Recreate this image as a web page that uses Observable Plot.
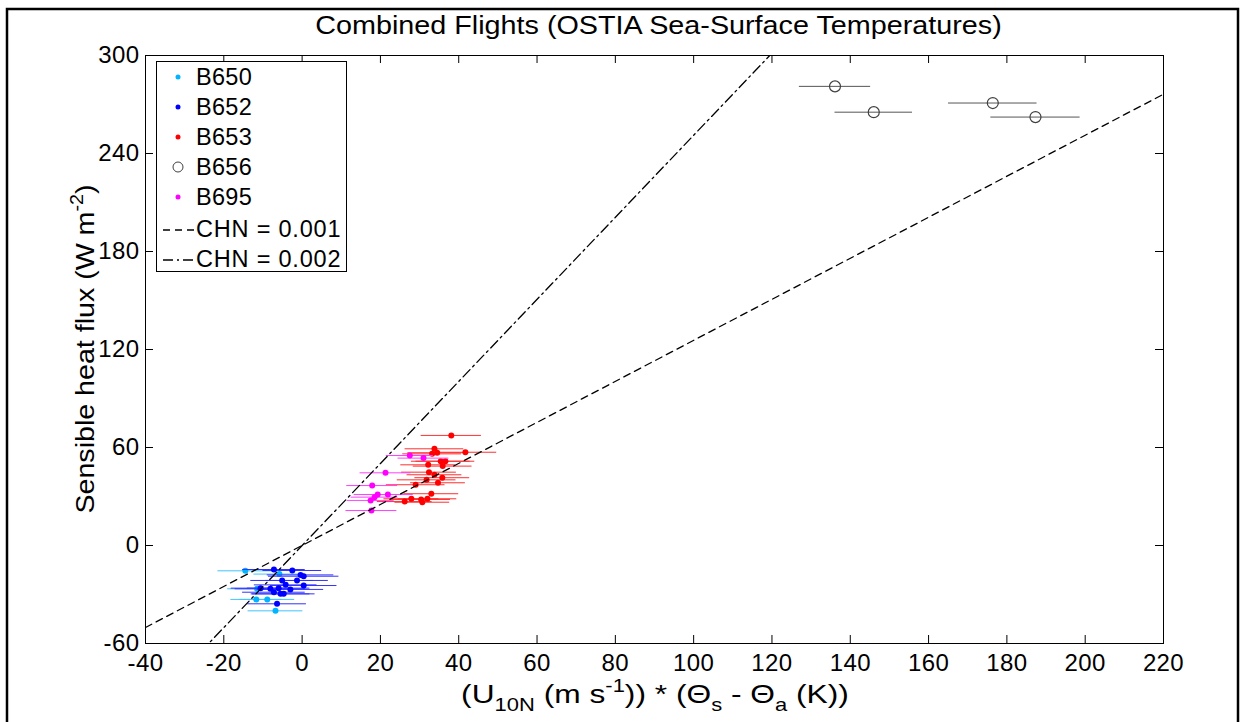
<!DOCTYPE html>
<html>
<head>
<meta charset="utf-8">
<script src="https://cdn.jsdelivr.net/npm/d3@7"></script>
<script src="https://cdn.jsdelivr.net/npm/@observablehq/plot@0.6"></script>
<style>
  html, body { margin: 0; padding: 0; background: #fff; }
  #chart { width: 1240px; height: 722px; overflow: hidden; }
</style>
</head>
<body>
<div id="chart"></div>
<script>
// ---- data ----
const xTicks = [-40, -20, 0, 20, 40, 60, 80, 100, 120, 140, 160, 180, 200, 220];
const yTicks = [-60, 0, 60, 120, 180, 240, 300];

const b650X = [-14.5, -5.8, -11.5, -11.7, -8.9, -6.8];
const b650Y = [-15.5, -17.5, -26.5, -33.0, -33.0, -40.0];
const b650E = [7.0, 6.5, 7.5, 6.5, 7.0, 7.0];

const b652X = [-7.2, -2.5, -0.4, 0.4, -5.1, -1.3, 0.4, -4.2, -8.1, -6.0, -3.0, -7.2, -5.5, -4.7, -10.6, -6.4];
const b652Y = [-14.7, -15.3, -18.0, -18.8, -21.4, -21.4, -24.5, -24.1, -26.5, -26.1, -26.9, -28.6, -29.6, -29.6, -26.1, -35.7];
const b652E = [8.0, 7.5, 8.5, 9.0, 8.0, 8.0, 8.5, 8.0, 9.0, 8.0, 8.5, 8.0, 7.5, 8.0, 7.5, 7.5];

const b653X = [38.1, 33.8, 41.7, 33.2, 34.5, 35.4, 36.6, 32.2, 35.9, 32.4, 33.8, 35.8, 31.8, 34.7, 29.0, 33.0, 26.2, 27.9, 30.4, 32.0, 30.7];
const b653Y = [67.4, 59.2, 57.1, 56.1, 56.8, 51.6, 51.6, 49.4, 48.6, 44.9, 43.3, 41.5, 40.2, 38.4, 37.2, 31.7, 26.9, 28.6, 28.2, 28.6, 26.5];
const b653E = [7.7, 7.5, 8.0, 7.5, 7.5, 7.5, 7.5, 7.0, 7.5, 7.0, 7.0, 7.0, 7.5, 7.0, 7.5, 7.0, 7.0, 7.0, 7.5, 7.5, 7.0];

const b656X = [136.1, 146.0, 176.4, 187.3];
const b656Y = [281.1, 265.3, 270.9, 262.3];
const b656E = [9.1, 9.9, 11.3, 11.4];

const b695X = [27.5, 31.0, 21.3, 17.9, 19.3, 21.9, 18.5, 17.5, 17.7];
const b695Y = [55.1, 53.5, 44.5, 36.7, 31.2, 31.2, 29.6, 27.6, 21.4];
const b695E = [6.0, 6.5, 6.5, 6.5, 6.0, 6.5, 6.0, 6.0, 6.5];

// reference lines (end points)
const chn1X = [-40, 220];
const chn1Y = [-50.2, 276.3];
const chn2X = [-40, 220];
const chn2Y = [-100.5, 552.6];

const seriesNames = ["B650", "B652", "B653", "B656", "B695"];
const seriesColors = ["#00b4ff", "#0000ff", "#ff0000", "#404040", "#ff00ff"];
const barColors = ["#40c4ff", "#3333ff", "#ff3030", "#555555", "#ff40ff"];

// ---- build tables ----
function table(xs, ys, es, name) {
  return xs.map((x, i) => ({x, y: ys[i], e: es[i], s: name}));
}
const groups = [
  table(b650X, b650Y, b650E, "B650"),
  table(b652X, b652Y, b652E, "B652"),
  table(b653X, b653Y, b653E, "B653"),
  table(b656X, b656Y, b656E, "B656"),
  table(b695X, b695Y, b695E, "B695")
];
const chn1 = chn1X.map((x, i) => ({x, y: chn1Y[i]}));
const chn2 = chn2X.map((x, i) => ({x, y: chn2Y[i]}));

const W = 1240, H = 722;
const mT = 55, mR = 77, mB = 79, mL = 145;
const plotW = W - mL - mR, plotH = H - mT - mB;
const tickLen = 8;
const FONT = "'Liberation Sans', Arial, Helvetica, sans-serif";

const marks = [];
groups.forEach((g, i) => {
  marks.push(Plot.ruleY(g, {y: "y", x1: d => d.x - d.e, x2: d => d.x + d.e, stroke: barColors[i], strokeWidth: 1}));
  if (seriesNames[i] === "B656") {
    marks.push(Plot.dot(g, {x: "x", y: "y", r: 5.5, stroke: seriesColors[i], strokeWidth: 1.2, fill: "none"}));
  } else {
    marks.push(Plot.dot(g, {x: "x", y: "y", r: 3, fill: seriesColors[i], stroke: "none"}));
  }
});

const chart = Plot.plot({
  width: W,
  height: H,
  marginTop: mT,
  marginRight: mR,
  marginBottom: mB,
  marginLeft: mL,
  style: {fontFamily: FONT, fontSize: "24px", color: "#000", background: "transparent"},
  x: {domain: [-40, 220], ticks: xTicks, label: null},
  y: {domain: [-60, 300], ticks: yTicks, label: null},
  marks: [
    ...marks,
    Plot.line(chn1, {x: "x", y: "y", stroke: "black", strokeWidth: 1.3, strokeDasharray: "7,5", clip: true}),
    Plot.line(chn2, {x: "x", y: "y", stroke: "black", strokeWidth: 1.3, strokeDasharray: "10,4,2,4", clip: true}),
    Plot.ruleX(xTicks, {stroke: "black", insetTop: plotH - tickLen}),
    Plot.ruleX(xTicks, {stroke: "black", insetBottom: plotH - tickLen}),
    Plot.ruleY(yTicks, {stroke: "black", insetRight: plotW - tickLen}),
    Plot.ruleY(yTicks, {stroke: "black", insetLeft: plotW - tickLen}),
    Plot.axisX(xTicks, {tickSize: 0, tickPadding: 10, fontSize: 24, label: null, tickFormat: d => String(d)}),
    Plot.axisY(yTicks, {tickSize: 0, tickPadding: 6, fontSize: 24, label: null, tickFormat: d => String(d)}),
    Plot.frame({stroke: "black", strokeWidth: 1})
  ]
});
document.getElementById("chart").appendChild(chart);

// ---- annotations: border, title, axis labels, legend ----
const svg = d3.select(chart);
svg.selectAll("g[aria-label='x-axis tick label'] text, g[aria-label='y-axis tick label'] text")
  .style("letter-spacing", "0.4px");

svg.append("rect")
  .attr("x", 7).attr("y", 9).attr("width", 1231).attr("height", 730)
  .attr("fill", "none").attr("stroke", "black").attr("stroke-width", 2.5);

svg.append("text")
  .attr("transform", "translate(658.5,34) scale(1.15,1)")
  .attr("text-anchor", "middle")
  .style("font-family", FONT).style("font-size", "25px")
  .text("Combined Flights (OSTIA Sea-Surface Temperatures)");

// x label
const xl = svg.append("text")
  .attr("transform", "translate(655,703) scale(1.22,1)")
  .attr("text-anchor", "middle")
  .style("font-family", FONT).style("font-size", "26px");
xl.append("tspan").text("(U");
xl.append("tspan").attr("dy", 8).style("font-size", "18px").text("10N");
xl.append("tspan").attr("dy", -8).text(" (m s");
xl.append("tspan").attr("dy", -11).style("font-size", "18px").text("-1");
xl.append("tspan").attr("dy", 11).text(")) * (\u0398");
xl.append("tspan").attr("dy", 8).style("font-size", "18px").text("s");
xl.append("tspan").attr("dy", -8).text(" - \u0398");
xl.append("tspan").attr("dy", 8).style("font-size", "18px").text("a");
xl.append("tspan").attr("dy", -8).text(" (K))");

// y label
const yl = svg.append("text")
  .attr("transform", `translate(94,${mT + plotH / 2}) rotate(-90) scale(1.1,1)`)
  .attr("text-anchor", "middle")
  .style("font-family", FONT).style("font-size", "26px");
yl.append("tspan").text("Sensible heat flux (W m");
yl.append("tspan").attr("dy", -11).style("font-size", "18px").text("-2");
yl.append("tspan").attr("dy", 11).text(")");

// legend
const lg = svg.append("g").style("font-family", FONT).style("font-size", "23.5px").attr("text-anchor", "start");
lg.append("rect").attr("x", 156.5).attr("y", 61.5).attr("width", 190).attr("height", 210)
  .attr("fill", "white").attr("stroke", "black").attr("stroke-width", 1);
seriesNames.forEach((name, i) => {
  const cy = 77 + i * 30;
  if (name === "B656") {
    lg.append("circle").attr("cx", 178).attr("cy", cy).attr("r", 5)
      .attr("fill", "none").attr("stroke", seriesColors[i]).attr("stroke-width", 1);
  } else {
    lg.append("circle").attr("cx", 178).attr("cy", cy).attr("r", 2.5).attr("fill", seriesColors[i]);
  }
  lg.append("text").attr("x", 196).attr("y", cy).attr("dy", "0.36em").attr("text-anchor", "start")
    .style("letter-spacing", "0.3px").text(name);
});
[["CHN = 0.001", "7,5"], ["CHN = 0.002", "10,4,2,4"]].forEach(([label, dash], i) => {
  const cy = 229 + i * 30;
  lg.append("line").attr("x1", 163).attr("x2", 195).attr("y1", cy + 1).attr("y2", cy + 1)
    .attr("stroke", "black").attr("stroke-width", 1.3).attr("stroke-dasharray", dash);
  lg.append("text").attr("x", 196).attr("y", cy).attr("dy", "0.36em").attr("text-anchor", "start")
    .style("letter-spacing", "0.8px").text(label);
});
</script>
</body>
</html>
